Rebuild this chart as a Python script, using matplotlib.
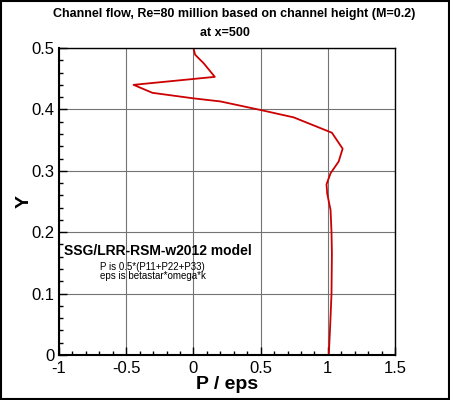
import matplotlib.pyplot as plt
from matplotlib.patches import Rectangle
from matplotlib.ticker import MultipleLocator

plt.rcParams['font.family'] = ['Liberation Sans', 'DejaVu Sans']

# P/eps profile across the channel
p_eps = [1.007, 1.019, 1.027, 1.030, 1.027, 1.020, 0.995, 0.990, 1.020, 1.080,
         1.110, 1.030, 0.746, 0.500, 0.200, 0.000, -0.305, -0.445, 0.159,
         0.077, 0.013, 0.000]
y_vals = [0.000, 0.057, 0.100, 0.166, 0.200, 0.236, 0.263, 0.278, 0.296, 0.315,
          0.336, 0.362, 0.387, 0.399, 0.413, 0.418, 0.427, 0.440, 0.453,
          0.475, 0.489, 0.500]

x_ticks = [-1, -0.5, 0, 0.5, 1, 1.5]
x_ticklabels = ['-1', '-0.5', '0', '0.5', '1', '1.5']
y_ticks = [0, 0.1, 0.2, 0.3, 0.4, 0.5]
y_ticklabels = ['0', '0.1', '0.2', '0.3', '0.4', '0.5']

title_lines = ["Channel flow, Re=80 million based on channel height (M=0.2)", "at x=500"]
model_label = "SSG/LRR-RSM-w2012 model"
notes = ["P is 0.5*(P11+P22+P33)", "eps is betastar*omega*k"]

fig = plt.figure(figsize=(4.5, 4.0), dpi=100)
ax = fig.add_axes([0.131, 0.1125, 0.747, 0.7675])

ax.plot(p_eps, y_vals, color='#cc0000', lw=1.3)

ax.set_xlim(-1, 1.5)
ax.set_ylim(0, 0.5)
ax.set_xticks(x_ticks)
ax.set_xticklabels(x_ticklabels)
ax.set_yticks(y_ticks)
ax.set_yticklabels(y_ticklabels)
ax.xaxis.set_minor_locator(MultipleLocator(0.1))
ax.yaxis.set_minor_locator(MultipleLocator(0.02))
ax.tick_params(which='both', direction='in', top=False, right=False, labelsize=12, width=1.0)
ax.tick_params(which='major', length=6, pad=3)
ax.tick_params(axis='x', which='major', pad=4)
ax.tick_params(which='minor', length=3)
ax.grid(True, which='major', color='0.45', lw=0.8)
for s in ax.spines.values():
    s.set_linewidth(1.0)
ax.spines['left'].set_linewidth(1.5)
ax.spines['bottom'].set_linewidth(1.5)

ax.set_xlabel("P / eps", fontsize=14, fontweight='bold', labelpad=0)
ax.set_ylabel("Y", fontsize=14, fontweight='bold', labelpad=-1)

fig.text(0.52, 0.965, title_lines[0], ha='center', va='center', fontsize=9, fontweight='bold')
fig.text(0.5, 0.917, title_lines[1], ha='center', va='center', fontsize=9, fontweight='bold')

ax.text(0.014, 0.339, model_label, transform=ax.transAxes, fontsize=10, fontweight='bold', va='center')
ax.text(0.122, 0.287, notes[0], transform=ax.transAxes, fontsize=7, va='center')
ax.text(0.122, 0.257, notes[1], transform=ax.transAxes, fontsize=7, va='center')

fig.patches.append(Rectangle((0.002, 0.003), 0.995, 0.994, transform=fig.transFigure,
                             fill=False, edgecolor='black', lw=1.5))

fig.savefig('out.png', dpi=100)
